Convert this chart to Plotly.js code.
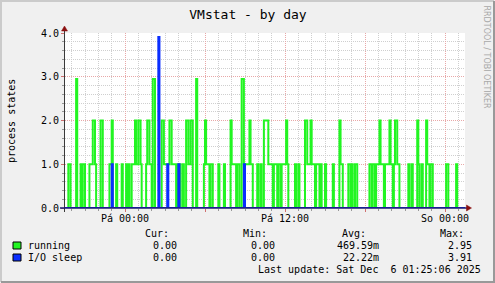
<!DOCTYPE html>
<html>
<head>
<meta charset="utf-8">
<script src="https://cdn.plot.ly/plotly-3.0.1.min.js"></script>
<style>
html,body{margin:0;padding:0;background:#F0F0F0;}
#chart{width:495px;height:283px;}
</style>
</head>
<body>
<div id="chart"></div>
<script>
// ---- data (time in minutes relative to Friday 00:00; step change points) ----
var runningT = [-270,-255,-245,-220,-215,-200,-195,-190,-180,-160,-145,-135,-130,-110,-100,-70,-60,-55,-40,-35,-15,-10,
  5,10,15,20,30,45,50,60,70,75,95,100,110,120,125,135,
  165,175,200,210,230,235,250,260,265,275,285,295,305,320,325,
  355,360,365,380,385,395,420,425,445,450,475,480,500,505,515,
  525,535,560,565,575,595,600,610,615,625,645,665,670,685,690,700,705,725,730,735,
  765,770,780,785,810,820,835,840,855,860,875,880,885,900,905,
  935,940,965,970,980,1005,1015,1020,1025,1035,1045,
  1100,1110,1115,1125,1130,1145,1150,1165,1170,1190,1195,1205,1210,1215,1225,1235,
  1275,1280,1290,1295,1315,1320,1325,1335,1340,1355,1360,1370,1375,1385,
  1445,1455,1490,1495,1530];
var runningV = [0,1,0,2.95,0,1,0,1,0,1,2,1,0,2,0,1,2,0,1,0,1,0,
  1,0,1,0,1,2,1,2,1,0,1,2,1,0,2.95,0,
  2,1,2,1,0,1,0,1,0,2,1,2,0,2.95,0,
  1,2,1,0,1,0,1,0,1,0,2,1,0,1,0,
  2.95,1,2,1,0,1,0,1,0,2,1,0,1,0,1,0,1,2,1,0,
  1,0,1,0,2,1,2,1,0,1,0,1,0,1,0,
  1,0,2,1,0,1,0,1,0,1,0,
  1,0,1,0,1,2,1,0,1,2,1,0,1,2,1,0,
  1,0,1,0,2,1,0,1,0,2,1,0,1,0,
  1,0,1,0,0];
var sleepT = [-270,-60,-55,150,155,190,195,240,245,535,540,1530];
var sleepV = [0,1,0,3.91,0,1,0,1,0,1,0,0];

var seriesNames = ["running", "I/O sleep"];
var seriesColors = ["#22F522", "#0A2EFF"];
var curVals = ["0.00", "0.00"];
var minVals = ["0.00", "0.00"];
var avgVals = ["469.59m", "22.22m"];
var maxVals = ["2.95", "3.91"];
var statHeaders = ["Cur:", "Min:", "Avg:", "Max:"];

var xTickVals = [0, 360, 720, 1080, 1440];
var xTickText = ["Pá 00:00", "", "Pá 12:00", "", "So 00:00"];
var yTickVals = [0, 1, 2, 3, 4];
var yTickText = ["0.0", "1.0", "2.0", "3.0", "4.0"];

var chartTitle = "VMstat - by day";
var yTitle = "process states";
var watermark = "RRDTOOL / TOBI OETIKER";
var lastUpdate = "Last update: Sat Dec\u00a0 6 01:25:06 2025";

// ---- layout helpers (pixel -> paper) ----
var L = 65, T = 33, W = 400, H = 175;
function px(x){ return (x - L) / W; }
function py(y){ return (T + H - y) / H; }

var mono = "DejaVu Sans Mono, monospace";
var traces = [
  {x: runningT, y: runningV, type: "scatter", mode: "lines",
   line: {shape: "hv", color: seriesColors[0], width: 2}, hoverinfo: "skip"},
  {x: sleepT, y: sleepV, type: "scatter", mode: "lines",
   line: {shape: "hv", color: seriesColors[1], width: 2}, hoverinfo: "skip"}
];

var ann = [];
function txt(t, x, y, anchor, opts){
  var a = {text: t, xref: "paper", yref: "paper", x: px(x), y: py(y),
    xanchor: anchor, yanchor: "middle", showarrow: false,
    font: {family: mono, size: 10, color: "#000"}, borderpad: 0};
  if (opts) for (var k in opts) a[k] = opts[k];
  ann.push(a);
}
var headerX = [170, 268, 367, 465];
var colX = [178, 276, 380, 473];
statHeaders.forEach(function(h, i){ txt(h, headerX[i], 233, "right"); });
var rowY = [245.5, 257.5];
for (var i = 0; i < seriesNames.length; i++) {
  txt(seriesNames[i], 27, rowY[i], "left");
  txt(curVals[i], colX[0], rowY[i], "right");
  txt(minVals[i], colX[1], rowY[i], "right");
  txt(avgVals[i], colX[2], rowY[i], "right");
  txt(maxVals[i], colX[3], rowY[i], "right");
}
txt(lastUpdate, 482, 269.5, "right");
txt(yTitle, 11, 121, "center", {textangle: -90});
txt(watermark, 486.5, 57, "center", {textangle: 90,
  font: {family: "DejaVu Sans, sans-serif", size: 8, color: "#A8A8A8"}});

var shapes = [];
// legend squares
for (var j = 0; j < seriesNames.length; j++) {
  shapes.push({type: "rect", xref: "paper", yref: "paper",
    x0: px(13), x1: px(21), y0: py(rowY[j] + 3.5), y1: py(rowY[j] - 3.5),
    fillcolor: seriesColors[j], line: {color: "#000", width: 1}});
}
// axis lines
shapes.push({type: "line", xref: "paper", yref: "paper",
  x0: px(64.5), x1: px(64.5), y0: py(212), y1: py(29), line: {color: "#3A3A3A", width: 1}});
shapes.push({type: "line", xref: "paper", yref: "paper",
  x0: px(60), x1: px(467), y0: py(208), y1: py(208), line: {color: "#1C1C70", width: 1.5}});
// arrows
shapes.push({type: "path", xref: "paper", yref: "paper",
  path: "M " + px(61.5) + " " + py(31) + " L " + px(64.5) + " " + py(26) + " L " + px(67.5) + " " + py(31) + " Z",
  fillcolor: "#8B1010", line: {color: "#8B1010", width: 0.5}});
shapes.push({type: "path", xref: "paper", yref: "paper",
  path: "M " + px(466.5) + " " + py(205) + " L " + px(471.5) + " " + py(208) + " L " + px(466.5) + " " + py(211) + " Z",
  fillcolor: "#8B1010", line: {color: "#8B1010", width: 0.5}});
// frame shading
shapes.push({type: "path", xref: "paper", yref: "paper",
  path: "M " + px(1) + " " + py(282) + " L " + px(1) + " " + py(1) + " L " + px(494) + " " + py(1),
  line: {color: "#CBCBCB", width: 2}});
shapes.push({type: "path", xref: "paper", yref: "paper",
  path: "M " + px(1) + " " + py(282) + " L " + px(494) + " " + py(282) + " L " + px(494) + " " + py(1),
  line: {color: "#999999", width: 2}});

var layout = {
  width: 495, height: 283,
  margin: {l: L, r: 495 - L - W, t: T, b: 283 - T - H, pad: 0},
  paper_bgcolor: "#F0F0F0", plot_bgcolor: "#FFFFFF",
  showlegend: false,
  title: {text: chartTitle, xref: "container", yref: "container",
    x: 248 / 495, y: 1 - 14 / 283, xanchor: "center", yanchor: "middle",
    font: {family: mono, size: 13, color: "#000"}},
  xaxis: {range: [-270, 1530], tickmode: "array", tickvals: xTickVals, ticktext: xTickText,
    showgrid: true, gridcolor: "#E8A8A8", griddash: "1px,1px", gridwidth: 1,
    ticks: "outside", ticklen: 3, tickcolor: "#D07070", ticklabelstandoff: -2,
    showline: false, zeroline: false, fixedrange: true,
    tickfont: {family: mono, size: 10, color: "#000"},
    minor: {tickmode: "linear", tick0: 0, dtick: 60, showgrid: true,
      gridcolor: "#CFCFCF", griddash: "1px,1px", ticks: "outside", ticklen: 2, tickcolor: "#999"}},
  yaxis: {range: [0, 4], tickmode: "array", tickvals: yTickVals, ticktext: yTickText,
    showgrid: true, gridcolor: "#E8A8A8", griddash: "1px,1px", gridwidth: 1,
    ticks: "outside", ticklen: 3, tickcolor: "#D07070",
    showline: false, zeroline: false, fixedrange: true,
    tickfont: {family: mono, size: 10, color: "#000"},
    minor: {tickmode: "linear", tick0: 0, dtick: 0.2, showgrid: true,
      gridcolor: "#CFCFCF", griddash: "1px,1px", ticks: "outside", ticklen: 2, tickcolor: "#999"}},
  annotations: ann,
  shapes: shapes
};

Plotly.newPlot("chart", traces, layout, {staticPlot: true, displayModeBar: false});
</script>
</body>
</html>
